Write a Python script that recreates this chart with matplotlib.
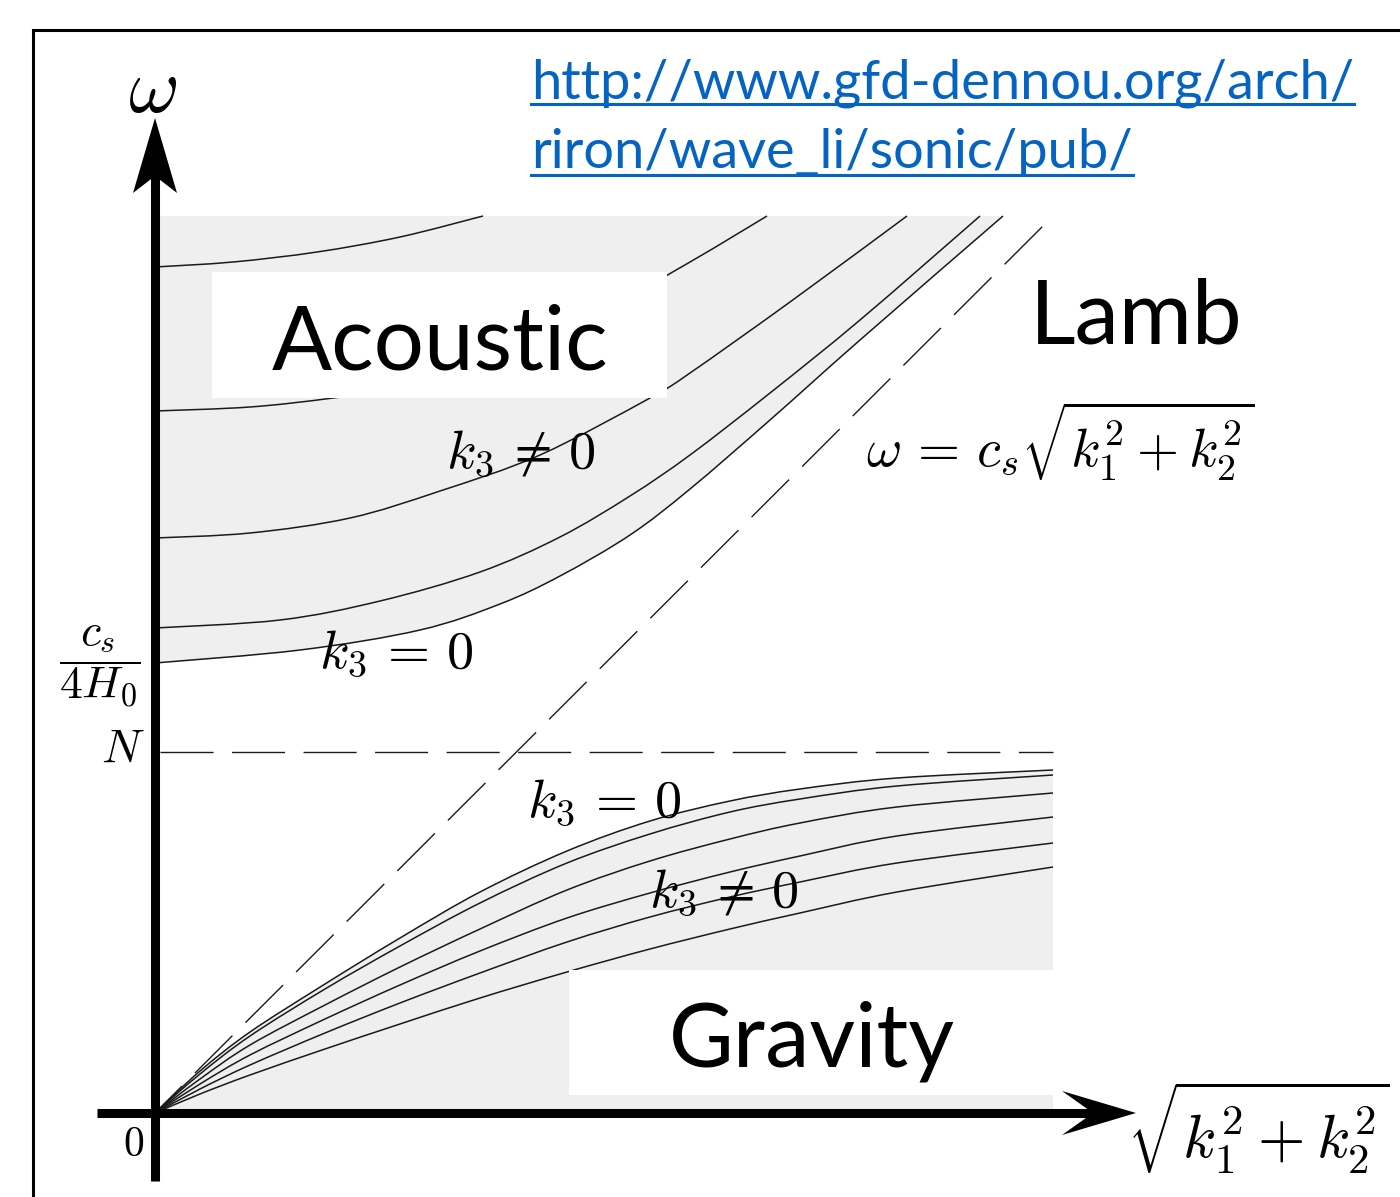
import numpy as np
import matplotlib.pyplot as plt
from matplotlib.patches import Polygon, Rectangle, PathPatch
from matplotlib.path import Path

plt.rcParams['mathtext.fontset'] = 'cm'
plt.rcParams['lines.scale_dashes'] = False

# horizontal wavenumber sqrt(k1^2+k2^2) and frequency omega (arbitrary units)
N = 3.61          # buoyancy frequency
k_end = 8.98      # right edge of the shaded regions
w_top = 8.97      # upper edge of the acoustic shading
lamb_k = [0, 8.98]
lamb_w = [0, 8.97]

# acoustic branch, k3 != 0 curves first, ac5 is k3 = 0
ac1_k = [0, 0.78, 1.62, 2.45, 3.28]
ac1_w = [8.46, 8.51, 8.61, 8.76, 8.97]
ac2_k = [0, 0.95, 1.78, 2.65, 3.45, 4.35, 5.35, 6.12]
ac2_w = [7.02, 7.06, 7.15, 7.28, 7.53, 7.95, 8.51, 8.97]
ac3_k = [0, 0.95, 1.95, 2.85, 3.85, 4.95, 5.35, 6.35, 7.52]
ac3_w = [5.75, 5.80, 5.95, 6.22, 6.58, 7.15, 7.40, 8.11, 8.97]
ac4_k = [0, 1.25, 2.25, 3.25, 4.05, 4.75, 5.35, 6.15, 7.05, 8.25]
ac4_w = [4.85, 4.93, 5.12, 5.41, 5.76, 6.17, 6.58, 7.20, 7.93, 8.97]
ac5_k = [0, 1.45, 2.65, 3.45, 4.05, 4.75, 5.35, 6.15, 7.05, 8.48]
ac5_w = [4.50, 4.63, 4.83, 5.09, 5.37, 5.78, 6.24, 6.93, 7.73, 8.97]

# gravity branch, gr1 is k3 = 0
grav_k = [0, 0.45, 0.95, 1.7, 2.45, 3.25, 4.12, 4.95, 5.75, 6.45, 7.42, 8.98]
gr1_w = [0, 0.42, 0.81, 1.29, 1.75, 2.21, 2.62, 2.92, 3.12, 3.24, 3.35, 3.43]
gr2_w = [0, 0.39, 0.77, 1.24, 1.67, 2.10, 2.50, 2.79, 3.01, 3.14, 3.27, 3.38]
gr3_w = [0, 0.34, 0.68, 1.08, 1.46, 1.84, 2.23, 2.52, 2.74, 2.90, 3.06, 3.20]
gr4_w = [0, 0.29, 0.58, 0.94, 1.28, 1.62, 1.95, 2.20, 2.41, 2.57, 2.77, 2.96]
gr5_w = [0, 0.24, 0.48, 0.80, 1.10, 1.40, 1.71, 1.96, 2.16, 2.31, 2.50, 2.70]
gr6_w = [0, 0.19, 0.38, 0.64, 0.89, 1.15, 1.41, 1.64, 1.84, 2.00, 2.21, 2.46]

url1 = 'http://www.gfd-dennou.org/arch/'
url2 = 'riron/wave_li/sonic/pub/'

grey = '#efefef'
ink = '#1a1a1a'
link = '#0563c1'


def curve_path(k, w):
    # smooth bezier through the read points (data units are isotropic here)
    p = np.column_stack([k, w]).astype(float)
    q = np.vstack([p[0], p, p[-1]])
    verts = [p[0]]
    codes = [Path.MOVETO]
    for i in range(len(p) - 1):
        a, b, c, d = q[i], q[i + 1], q[i + 2], q[i + 3]
        verts += [b + (c - a) / 6, c - (d - b) / 6, c]
        codes += [Path.CURVE4] * 3
    return verts, codes


fig = plt.figure(figsize=(14, 11.97), dpi=100)
ax = fig.add_axes([0, 0, 1, 1])
ax.set_xlim(-1.55, 12.45)
ax.set_ylim(-0.84, 11.13)
ax.axis('off')

# shaded regions
v, c = curve_path(ac5_k, ac5_w)
v = v + [(0, w_top), (0, w_top)]
c = c + [Path.LINETO, Path.CLOSEPOLY]
ax.add_patch(PathPatch(Path(v, c), facecolor=grey, lw=0, zorder=1))
v, c = curve_path(grav_k, gr1_w)
v = v + [(k_end, 0), (0, 0)]
c = c + [Path.LINETO, Path.CLOSEPOLY]
ax.add_patch(PathPatch(Path(v, c), facecolor=grey, lw=0, zorder=1))

# dispersion curves
curves = [(ac1_k, ac1_w), (ac2_k, ac2_w), (ac3_k, ac3_w), (ac4_k, ac4_w),
          (ac5_k, ac5_w)]
curves += [(grav_k, w) for w in [gr1_w, gr2_w, gr3_w, gr4_w, gr5_w, gr6_w]]
for k, w in curves:
    v, c = curve_path(k, w)
    ax.add_patch(PathPatch(Path(v, c), facecolor='none', edgecolor=ink,
                           lw=1.1, zorder=2))

# Lamb wave and N
ax.plot(lamb_k, lamb_w, color=ink, lw=1.0, ls=(10.9, (38.2, 13.3)), zorder=2)
ax.plot([0, k_end], [N, N], color=ink, lw=1.0, ls=(47.9, (38.2, 13.3)), zorder=2)

# white label boxes
ax.add_patch(Rectangle((0.57, 7.15), 4.55, 1.26, color='white', lw=0, zorder=3))
ax.add_patch(Rectangle((4.14, 0.18), 4.84, 1.25, color='white', lw=0, zorder=3))
ax.text(2.85, 7.44, 'Acoustic', family='Lato', fontsize=64, ha='center',
        va='baseline', zorder=4)
ax.text(6.57, 0.46, 'Gravity', family='Lato', fontsize=64, ha='center',
        va='baseline', zorder=4)
ax.text(8.75, 7.69, 'Lamb', family='Lato', fontsize=64, ha='left',
        va='baseline', zorder=4)

# axes with arrow heads
ax.plot([0, 0], [-0.68, 9.4], color='k', lw=6.5, solid_capstyle='butt', zorder=5)
ax.plot([-0.58, 9.4], [0, 0], color='k', lw=6.5, solid_capstyle='butt', zorder=5)
ax.add_patch(Polygon([(0, 9.95), (0.22, 9.20), (0, 9.37), (-0.22, 9.20)],
                     closed=True, color='k', lw=0, zorder=5))
ax.add_patch(Polygon([(9.81, 0), (9.07, 0.22), (9.38, 0), (9.07, -0.22)],
                     closed=True, color='k', lw=0, zorder=5))

# frame
ax.plot([-1.22, -1.22, 12.6], [-1.0, 10.83, 10.83], color='k', lw=2.2,
        solid_joinstyle='miter', zorder=5)

# math labels
ax.text(-0.02, 10.23, r'$\omega$', fontsize=56, ha='center', va='center', zorder=6)
ax.text(11.03, -0.15, r'$\sqrt{k_1^2+k_2^2}$', fontsize=44, ha='center',
        va='center', zorder=6)
ax.text(-0.10, 3.64, r'$N$', fontsize=34, ha='right', va='center', zorder=6)
ax.text(-0.55, 4.47, r'$\dfrac{c_s}{4H_0}$', fontsize=33, ha='center',
        va='center', zorder=6)
ax.text(-0.21, -0.31, r'$0$', fontsize=30, ha='center', va='center', zorder=6)
ax.text(3.66, 6.61, r'$k_3\,\neq\,0$', fontsize=39, ha='center', va='center', zorder=6)
ax.text(2.41, 4.61, r'$k_3\,=\,0$', fontsize=39, ha='center', va='center', zorder=6)
ax.text(4.49, 3.12, r'$k_3\,=\,0$', fontsize=39, ha='center', va='center', zorder=6)
ax.text(5.69, 2.22, r'$k_3\,\neq\,0$', fontsize=39, ha='center', va='center', zorder=6)
ax.text(9.05, 6.72, r'$\omega\,=\,c_s\sqrt{k_1^2+k_2^2}$', fontsize=39,
        ha='center', va='center', zorder=6)

# source link, sized to the width it has in the original
t1 = ax.text(3.76, 10.15, url1, family='Lato', fontsize=40, color=link,
             va='baseline', zorder=6)
t2 = ax.text(3.76, 9.45, url2, family='Lato', fontsize=40, color=link,
             va='baseline', zorder=6)
fig.canvas.draw()
r = fig.canvas.get_renderer()
size = 40 * 823 / t1.get_window_extent(r).width
t1.set_fontsize(size)
t2.set_fontsize(size)
fig.canvas.draw()
inv = ax.transData.inverted()
for t, y in [(t1, 10.09), (t2, 9.38)]:
    bb = t.get_window_extent(r)
    x0 = inv.transform((bb.x0, 0))[0]
    x1 = inv.transform((bb.x1, 0))[0]
    ax.plot([x0, x1], [y, y], color=link, lw=2.2, zorder=6)

fig.savefig('out.png', dpi=100)
